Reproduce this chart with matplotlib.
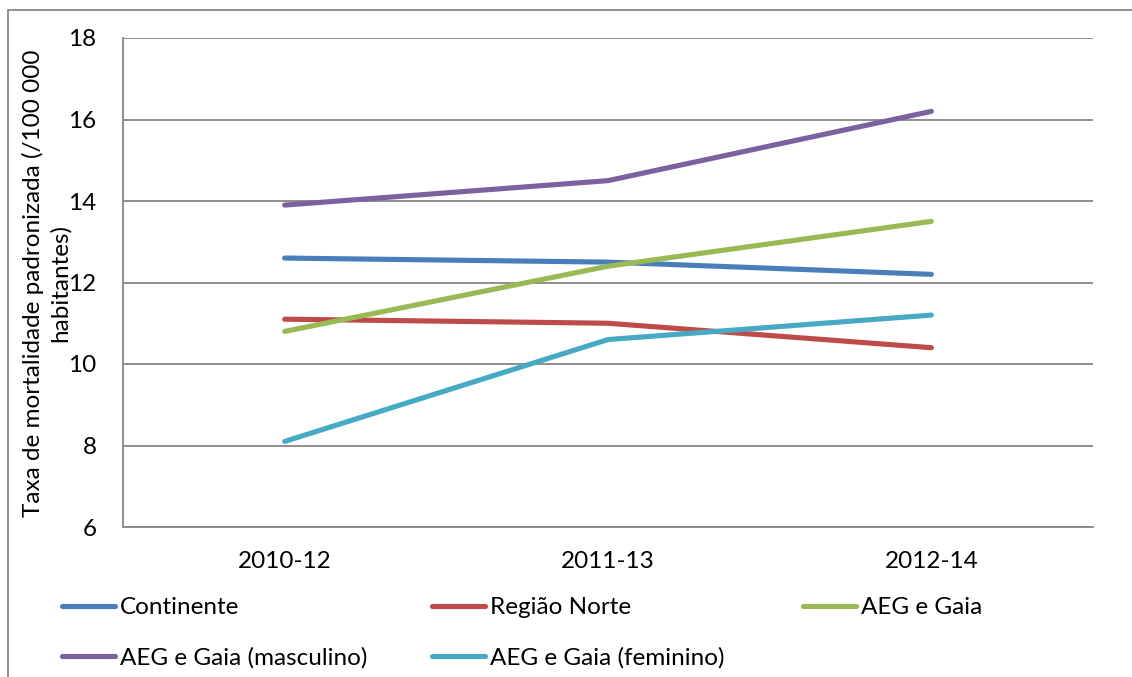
import matplotlib
matplotlib.use("Agg")
import matplotlib.pyplot as plt
from matplotlib.patches import Rectangle

plt.rcParams['font.family'] = ['Lato', 'DejaVu Sans']

periods = ["2010-12", "2011-13", "2012-14"]
continente = [12.6, 12.5, 12.2]
regiao_norte = [11.1, 11.0, 10.4]
aeg_gaia = [10.8, 12.4, 13.5]
aeg_gaia_masc = [13.9, 14.5, 16.2]
aeg_gaia_fem = [8.1, 10.6, 11.2]

series = [
    ("Continente", continente, "#4A7EBB"),
    ("Região Norte", regiao_norte, "#BE4B48"),
    ("AEG e Gaia", aeg_gaia, "#98B954"),
    ("AEG e Gaia (masculino)", aeg_gaia_masc, "#7D60A0"),
    ("AEG e Gaia (feminino)", aeg_gaia_fem, "#46AAC5"),
]

FS = 17.5
W, H = 1132, 677
fig = plt.figure(figsize=(W / 100, H / 100), dpi=100)
ax = fig.add_axes([123 / W, (H - 527) / H, 970 / W, 489 / H])

x = list(range(len(periods)))
lines = []
for name, vals, col in series:
    ln, = ax.plot(x, vals, color=col, lw=3.7, solid_capstyle='round', label=name)
    lines.append(ln)

ax.set_xlim(-0.5, 2.5)
ax.set_ylim(6, 18)
ax.set_yticks([6, 8, 10, 12, 14, 16, 18])
ax.set_xticks(x)
ax.set_xticklabels(periods)
ax.tick_params(axis='both', length=0, labelsize=FS, colors='black')
ax.tick_params(axis='y', pad=19)
ax.tick_params(axis='x', pad=17)
ax.yaxis.grid(True, color='#868686', lw=1.3)
ax.set_axisbelow(True)
for s in ['top', 'right']:
    ax.spines[s].set_visible(False)
for s in ['left', 'bottom']:
    ax.spines[s].set_color('#868686')
    ax.spines[s].set_linewidth(1.3)

fig.text(46 / W, 1 - 283 / H, "Taxa de mortalidade padronizada (/100 000\nhabitantes)",
         rotation=90, ha='center', va='center', multialignment='center',
         fontsize=FS, linespacing=1.3)

# legends: three columns
groups = [[0, 3], [1, 4], [2]]
xs = [62, 432, 803]
for g, xp in zip(groups, xs):
    fig.legend([lines[i] for i in g], [series[i][0] for i in g],
               loc='upper left', bbox_to_anchor=(xp / W, 1 - 597 / H),
               frameon=False, fontsize=FS, handlelength=2.2,
               handletextpad=0.2, labelspacing=1.2, borderpad=0, borderaxespad=0)

# outer border
fig.add_artist(Rectangle((8 / W, -0.1), 1.2, (H - 10) / H + 0.1, transform=fig.transFigure,
                         fill=False, edgecolor='#868686', lw=1.3))

fig.savefig("out.png", dpi=100)
